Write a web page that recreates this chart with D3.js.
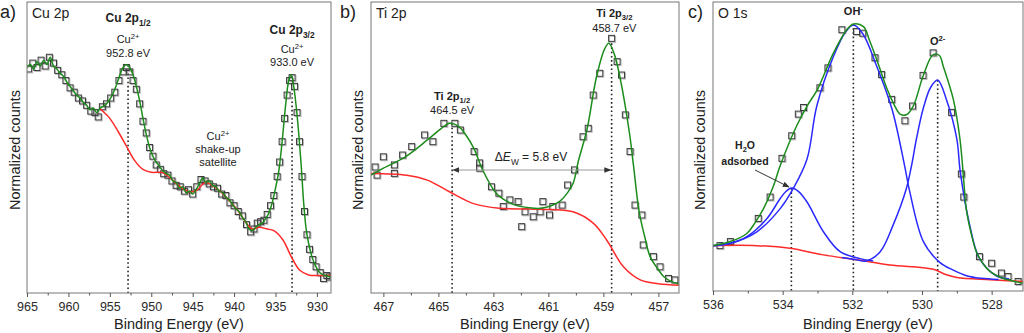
<!DOCTYPE html>
<html>
<head>
<meta charset="utf-8">
<script src="https://cdn.jsdelivr.net/npm/d3@7"></script>
<style>
  body { margin: 0; background: #fff; }
  svg { font-family: "Liberation Sans", Arial, sans-serif; }
</style>
</head>
<body>
<div id="vis"></div>
<script>
// ---- data (y in normalized 0-100 units) ----

// panel a: Cu 2p
const CU_TICKS = [965, 960, 955, 950, 945, 940, 935, 930];
const CU_MINOR = [962.5, 957.5, 952.5, 947.5, 942.5, 937.5, 932.5];
const CU_PEAKS = [[952.8, 78.4], [933.0, 74.5]];
const CU_FIT = [
  [965,77.5],[964.6,78.5],[964.2,77],[963.8,79.5],[963.4,78],[963.0,80],[962.6,78.5],[962.2,81],
  [961.8,78],[961.4,77],[961.0,75.5],[960.6,74.5],[960.2,72.5],[959.8,71],[959.4,69.5],[959.0,68],
  [958.6,67],[958.2,65.5],[957.8,64.5],[957.4,63],[957.0,63.5],[956.6,62],[956.2,63.5],[955.6,64.5],
  [955.0,66.5],[954.4,70],[953.9,74],[953.4,77.5],[953.0,78.4],[952.6,77.5],[952.2,75],[951.8,71],
  [951.4,66],[951.0,60],[950.6,54.5],[950.2,50],[949.8,47],[949.4,45],[949.0,43.5],[948.6,42],
  [948.2,41],[947.8,40.5],[947.4,38.5],[947.0,38],[946.6,36],[946.2,36.5],[945.8,34.5],[945.4,35],
  [945.0,34],[944.6,35.5],[944.2,37.5],[943.8,39.5],[943.4,38],[943.0,38.5],[942.6,37],[942.2,36.5],
  [941.8,35],[941.4,34.5],[941.0,33],[940.6,32],[940.2,30.5],[939.8,29],[939.4,28],[939.0,26],
  [938.6,24.5],[938.2,22],[937.8,21.5],[937.4,22.5],[937.0,23.5],[936.6,24],[936.2,25.5],[935.8,27.5],
  [935.4,31],[935.0,36],[934.6,42],[934.2,52],[933.8,64],[933.4,73],[933.1,75],[932.8,71],
  [932.5,64],[932.2,55],[931.9,44],[931.6,31],[931.3,22],[931.0,17],[930.6,12.5],[930.2,9.5],
  [929.8,7.5],[929.4,6.5],[929.0,6],[928.3,5.5]
];
const CU_BG = [
  [956.2,63.5],[955.5,61.5],[955,60],[954,55.5],[953,50.5],[952,45.5],[951,42.5],[950,41.5],
  [949,41.5],[948.5,41.2],[947.5,39],[946.5,36.5],[945.5,34.8],[944.5,35.3],[943.5,38],[942.5,36.8],
  [941.5,34.5],[940.5,31.5],[939.5,28.2],[938.5,24],[937.8,22],[937,22.6],[936,22],
  [935.2,21.4],[934.1,18.2],[933.1,12.5],[932.1,7.9],[931,6.2],[930,6],[928.3,6]
];
const CU_DATA = [
  [964.8,77],[964.3,79],[963.8,77.5],[963.3,80],[962.8,78],[962.3,81],[961.8,79],[961.3,76.5],
  [960.8,75],[960.3,73],[959.8,70.5],[959.3,69],[958.8,67],[958.3,66],[957.8,64.5],[957.3,62.5],
  [956.8,62],[956.4,60.5],[955.9,64],[955.4,65],[954.9,67],[954.4,69],[953.9,73],[953.4,76],
  [953.0,77.5],[952.6,76],[952.2,73],[951.8,70],[951.4,65],[951.0,59],[950.6,55],[950.2,50],
  [949.8,47],[949.4,44],[948.9,42.5],[948.5,41],[948.0,40.5],[947.5,38.5],[947.0,37],[946.5,36.5],
  [946.0,35],[945.5,35.5],[945.0,34],[944.5,36.5],[944.0,39],[943.5,38.5],[943.0,37.5],[942.5,36.5],
  [942.0,36],[941.5,34],[941.0,33.5],[940.5,31],[940.0,30],[939.5,28],[939.0,26.5],[938.5,23.5],
  [938.0,21],[937.6,22],[937.2,24],[936.8,24.5],[936.4,25],[936.0,27],[935.6,30],[935.2,33.5],
  [934.8,40],[934.5,45],[934.2,52],[933.9,60],[933.6,68],[933.3,73],[933.0,74],[932.7,71],
  [932.4,62],[932.1,52],[931.8,40],[931.5,28],[931.2,20],[930.9,15],[930.5,11.5],[930.1,9],
  [929.6,7],[929.2,5],[928.8,6],[928.5,5.5]
];

// panel b: Ti 2p
const TI_TICKS = [467, 465, 463, 461, 459, 457];
const TI_MINOR = [466, 464, 462, 460, 458];
const TI_PEAKS = [[464.5, 58.3], [458.7, 85.8]];
const TI_FIT = [
  [467.45,40.5],[467,42.9],[466.2,46.8],[465.4,52.6],[464.9,56.5],[464.6,58.3],[464.3,57.5],[464,54.3],
  [463.7,49.5],[463.4,42.5],[462.9,34.3],[462.5,31.5],[462.2,30.2],[461.7,29.3],[461.3,29.1],[460.9,30],
  [460.6,31.4],[460.3,34.5],[460.1,37.7],[459.9,45.7],[459.6,56],[459.25,74.3],[458.95,84],[458.8,85.8],
  [458.6,82],[458.4,74.3],[458.05,54.9],[457.9,43.4],[457.7,28],[457.5,19.5],[457.3,12.5],[457.0,8],
  [456.8,5.6],[456.5,3.8],[456.25,3.1]
];
const TI_BG = [
  [467.45,41.1],[466.15,40.5],[465.4,38.8],[464.6,34.8],[463.75,30.8],[462.78,29.1],[461.3,28.8],
  [460.1,27.9],[459.37,24],[458.88,18.2],[458.27,9],[457.66,4.5],[457.0,3.2],[456.25,2.7]
];
const TI_DATA = [
  [467.3,43.3],[467.23,40.5],[467.0,46.8],[466.6,44],[466.6,41.1],[466.3,47.4],[465.97,50.3],[465.5,54.3],
  [465.2,52],[464.8,58.3],[464.4,58.3],[464.2,56],[463.7,48.6],[463.5,44.7],[463.5,42.9],[463.07,36.5],
  [462.8,34.3],[462.64,29.7],[462.4,32],[462.1,31.4],[461.97,22.8],[461.85,27.9],[461.55,26.2],[461.3,27.9],
  [461.2,31.4],[460.96,26.8],[460.84,29.7],[460.5,30.2],[460.3,37.1],[460.05,42.3],[459.74,53.7],[459.55,56.6],
  [459.37,68],[459.13,75.5],[458.7,87.5],[458.5,79.5],[458.34,74.9],[458.2,61.2],[458.03,48.6],[457.85,30.2],
  [457.6,26.8],[457.55,16.5],[457.18,12.5],[456.94,9],[456.63,5],[456.4,4.5]
];

// panel c: O 1s
const O_TICKS = [536, 534, 532, 530, 528];
const O_MINOR = [535, 533, 531, 529];
const O_PEAKS = [[533.75, 35.6], [531.97, 92.4], [529.55, 73]];
const O_FIT = [
  [536,15.7],[535.5,17.1],[535.03,19.9],[534.8,23.5],[534.55,28.5],[534.26,36.5],[534.07,43.4],[533.6,57.1],
  [533.3,64],[533.0,69.8],[532.54,82.4],[532.16,90.4],[531.97,92.4],[531.68,91.5],[531.5,86.5],[531.3,80.1],
  [531.0,69.8],[530.8,64.5],[530.63,61.2],[530.45,61],[530.25,64],[529.97,74.3],[529.68,81.8],[529.5,81.5],
  [529.39,77.8],[529.1,66.3],[528.91,52.6],[528.8,38],[528.73,28.5],[528.6,20.5],[528.44,13.6],[528.25,9.5],
  [528.05,6.8],[527.7,4.5],[527.1,2.7]
];
const O_BG = [
  [536,15.7],[534.74,15.7],[533.79,14.8],[532.83,12.5],[531.87,10.8],[530.92,9],[529.7,7.6],
  [529.3,5.6],[529.0,4.7],[528.05,3.9],[527.1,3.3]
];
const O_H2O = [
  [536,15.7],[535.5,16.5],[535.03,18.8],[534.45,25.1],[534.07,32],[533.9,34.5],[533.75,35.6],[533.55,34.5],
  [533.3,30.8],[532.83,20.5],[532.35,13.6],[531.78,11.2],[531.4,10.4]
];
const O_OH = [
  [536,15.7],[535.5,16.5],[534.74,20.5],[534.07,28.5],[533.7,35.4],[533.3,45.7],[533.02,64],[532.54,81.2],
  [532.2,89.5],[531.97,92],[531.7,89],[531.3,77.8],[530.86,62.9],[530.5,43.4],[530.35,34.3],[529.96,17.1],
  [529.5,10],[529.1,7.2],[528.7,5.2],[528.3,4.4],[527.8,4]
];
const O_O2 = [
  [532.3,11.6],[531.97,11],[531.6,10.4],[531.2,13.6],[530.83,22.8],
  [530.45,35.4],[530.3,43.4],[530.16,52.6],[529.97,62.9],[529.75,70.5],[529.55,73],[529.3,66.3],[529.0,52.6],
  [528.9,41.1],[528.63,22.8],[528.35,11.3],[527.86,5.2],[527.5,4.2]
];
const O_DATA = [
  [535.8,15.7],[535.5,17.1],[534.7,25.1],[534.36,32.5],[534.02,45.9],[533.74,53.7],[533.55,61.2],[533.4,63.5],
  [532.93,70.3],[532.7,77.2],[532.3,90.4],[531.88,89.8],[531.7,89.2],[531.35,80.7],[531.16,74.9],[530.87,66.3],
  [530.49,58.9],[530.27,64],[529.97,74.6],[529.68,82.4],[529.15,61.8],[528.87,40.5],[528.8,32.5],[528.35,11.9],
  [528.0,9.6],[527.72,6.2],[527.53,5],[527.24,3.3]
];

// ---- layout ----
const FRAME_WIDTH = 1024;
const FRAME_HEIGHT = 333;
const PLOT_TOP = 2;

const SVG = d3.select('#vis')
  .append('svg')
    .attr('width', FRAME_WIDTH)
    .attr('height', FRAME_HEIGHT);

const GREEN = '#1c8c1c';
const RED = '#ff2a2a';
const BLUE = '#2a2aff';
const TEXT = '#222';

// rich label: parts = [[text, 'n'|'sub'|'sup', italic?], ...]
function rich(x, y, parts, size, bold) {
  const t = SVG.append('text')
    .attr('x', x).attr('y', y)
    .attr('text-anchor', 'middle')
    .attr('font-size', size)
    .attr('font-weight', bold ? 'bold' : 'normal')
    .attr('fill', TEXT);
  let shift = 0;
  parts.forEach((p) => {
    let target = 0;
    if (p[1] === 'sub') target = size * 0.3;
    if (p[1] === 'sup') target = -size * 0.4;
    const span = t.append('tspan')
      .attr('dy', target - shift)
      .attr('font-size', p[1] === 'n' ? size : size * 0.7)
      .text(p[0]);
    if (p[2]) span.attr('font-style', 'italic');
    shift = target;
  });
  return t;
}

function build_panel(cfg) {
  const BOTTOM = cfg.bottom;
  const X = d3.scaleLinear().domain(cfg.domain).range([cfg.left, cfg.right]);
  const Y = d3.scaleLinear().domain([0, 100]).range([BOTTOM, PLOT_TOP]);

  const clipId = 'clip-' + cfg.name;
  SVG.append('clipPath').attr('id', clipId)
    .append('rect')
      .attr('x', cfg.left).attr('y', PLOT_TOP)
      .attr('width', cfg.right - cfg.left).attr('height', BOTTOM - PLOT_TOP);

  const G = SVG.append('g').attr('clip-path', 'url(#' + clipId + ')');

  // dotted peak markers
  G.selectAll('.peak-' + cfg.name)
    .data(cfg.peaks)
    .enter()
    .append('line')
      .attr('x1', (d) => X(d[0])).attr('x2', (d) => X(d[0]))
      .attr('y1', (d) => Y(d[1])).attr('y2', BOTTOM)
      .attr('stroke', '#222')
      .attr('stroke-width', 1.6)
      .attr('stroke-dasharray', '1.6,2.6');

  // measured points (open squares with a soft grey shadow)
  G.selectAll('.shadow-' + cfg.name)
    .data(cfg.points)
    .enter()
    .append('rect')
      .attr('x', (d) => X(d[0]) - 2)
      .attr('y', (d) => Y(d[1]) - 2)
      .attr('width', 6).attr('height', 6)
      .attr('fill', 'none').attr('stroke', '#bbb').attr('stroke-width', 1);
  G.selectAll('.pt-' + cfg.name)
    .data(cfg.points)
    .enter()
    .append('rect')
      .attr('x', (d) => X(d[0]) - 3)
      .attr('y', (d) => Y(d[1]) - 3)
      .attr('width', 6).attr('height', 6)
      .attr('fill', 'none').attr('stroke', '#3a3a3a').attr('stroke-width', 1);

  const LINE = d3.line()
    .x((d) => X(d[0]))
    .y((d) => Y(d[1]))
    .curve(d3.curveCatmullRom);

  cfg.lines.forEach((l) => {
    G.append('path')
      .datum(l.data)
      .attr('d', LINE)
      .attr('fill', 'none')
      .attr('stroke', l.color)
      .attr('stroke-width', 1.5);
  });

  // frame
  SVG.append('rect')
    .attr('x', cfg.left).attr('y', PLOT_TOP)
    .attr('width', cfg.right - cfg.left).attr('height', BOTTOM - PLOT_TOP)
    .attr('fill', 'none').attr('stroke', '#777').attr('stroke-width', 1);

  // x axis, major and minor ticks
  const AX = SVG.append('g')
    .attr('transform', 'translate(0,' + BOTTOM + ')')
    .call(d3.axisBottom(X).tickValues(cfg.ticks).tickSize(4).tickPadding(5).tickFormat(d3.format('d')))
    .attr('font-size', '12.5px')
    .attr('font-family', '"Liberation Sans", Arial, sans-serif');
  AX.select('.domain').remove();
  AX.selectAll('line').attr('stroke', '#555');
  AX.selectAll('text').attr('fill', '#2a2a2a');

  const MX = SVG.append('g')
    .attr('transform', 'translate(0,' + BOTTOM + ')')
    .call(d3.axisBottom(X).tickValues(cfg.minor).tickSize(2.5).tickFormat(''));
  MX.select('.domain').remove();
  MX.selectAll('line').attr('stroke', '#555');

  // axis titles
  SVG.append('text')
    .attr('x', (cfg.left + cfg.right) / 2).attr('y', 329)
    .attr('text-anchor', 'middle')
    .attr('font-size', '14.5px')
    .attr('fill', TEXT)
    .text('Binding Energy (eV)');

  SVG.append('text')
    .attr('transform', 'translate(' + cfg.ylabelX + ',' + 150 + ') rotate(-90)')
    .attr('text-anchor', 'middle')
    .attr('font-size', '14.5px')
    .attr('fill', TEXT)
    .text('Normalized counts');

  // panel letter and title
  SVG.append('text')
    .attr('x', cfg.letterX).attr('y', 18)
    .attr('font-size', '18px')
    .attr('fill', TEXT)
    .text(cfg.letter);

  SVG.append('text')
    .attr('x', cfg.left + 5).attr('y', 17.5)
    .attr('font-size', '14px')
    .attr('fill', TEXT)
    .text(cfg.title);

  return X;
}

// ---- panel a ----
const XA = build_panel({
  name: 'a', left: 27, right: 331, bottom: 293, domain: [965, 928.3],
  ticks: CU_TICKS, minor: CU_MINOR, peaks: CU_PEAKS, points: CU_DATA,
  lines: [{data: CU_BG, color: RED}, {data: CU_FIT, color: GREEN}],
  ylabelX: 20, letter: 'a)', letterX: 0, title: 'Cu 2p'
});
rich(XA(952.8), 22, [['Cu 2p', 'n'], ['1/2', 'sub']], 12, true);
rich(XA(952.8), 43, [['Cu', 'n'], ['2+', 'sup']], 11, false);
rich(XA(952.8), 57, [['952.8 eV', 'n']], 11, false);
rich(XA(933.0), 34, [['Cu 2p', 'n'], ['3/2', 'sub']], 12, true);
rich(XA(933.0), 53, [['Cu', 'n'], ['2+', 'sup']], 11, false);
rich(XA(933.0), 66, [['933.0 eV', 'n']], 11, false);
rich(218, 140, [['Cu', 'n'], ['2+', 'sup']], 11, false);
rich(218, 153, [['shake-up', 'n']], 11, false);
rich(218, 166, [['satellite', 'n']], 11, false);

// ---- panel b ----
const XB = build_panel({
  name: 'b', left: 371, right: 679, bottom: 293, domain: [467.45, 456.25],
  ticks: TI_TICKS, minor: TI_MINOR, peaks: TI_PEAKS, points: TI_DATA,
  lines: [{data: TI_BG, color: RED}, {data: TI_FIT, color: GREEN}],
  ylabelX: 363, letter: 'b)', letterX: 340, title: 'Ti 2p'
});
rich(XB(464.5), 100, [['Ti 2p', 'n'], ['1/2', 'sub']], 11, true);
rich(XB(464.5), 114, [['464.5 eV', 'n']], 11, false);
rich(XB(458.6), 17, [['Ti 2p', 'n'], ['3/2', 'sub']], 11, true);
rich(XB(458.6), 32, [['458.7 eV', 'n']], 11, false);
rich(531, 161, [['\u0394', 'n'], ['E', 'n', true], ['W', 'sub'], [' = 5.8 eV', 'n']], 12, false);

SVG.append('defs').html(
  '<marker id="ah" viewBox="0 0 10 10" refX="9" refY="5" markerWidth="7" markerHeight="7" orient="auto-start-reverse">' +
  '<path d="M0,1 L10,5 L0,9 z" fill="#333"/></marker>');

SVG.append('line')
  .attr('x1', XB(464.5) + 1).attr('x2', XB(458.7) - 1)
  .attr('y1', 170).attr('y2', 170)
  .attr('stroke', '#999').attr('stroke-width', 1)
  .attr('marker-start', 'url(#ah)')
  .attr('marker-end', 'url(#ah)');

// ---- panel c ----
const XC = build_panel({
  name: 'c', left: 713, right: 1023, bottom: 291, domain: [536, 527.1],
  ticks: O_TICKS, minor: O_MINOR, peaks: O_PEAKS, points: O_DATA,
  lines: [{data: O_BG, color: RED}, {data: O_H2O, color: BLUE}, {data: O_OH, color: BLUE},
          {data: O_O2, color: BLUE}, {data: O_FIT, color: GREEN}],
  ylabelX: 705, letter: 'c)', letterX: 688, title: 'O 1s'
});
rich(XC(531.97), 15, [['OH', 'n'], ['-', 'sup']], 11, true);
rich(XC(529.55), 45, [['O', 'n'], ['2-', 'sup']], 11, true);
rich(745, 149, [['H', 'n'], ['2', 'sub'], ['O', 'n']], 10.5, true);
rich(745, 165, [['adsorbed', 'n']], 10.5, true);

SVG.append('line')
  .attr('x1', 755).attr('y1', 170)
  .attr('x2', 789).attr('y2', 187)
  .attr('stroke', '#333').attr('stroke-width', 1)
  .attr('marker-end', 'url(#ah)');
</script>
</body>
</html>
